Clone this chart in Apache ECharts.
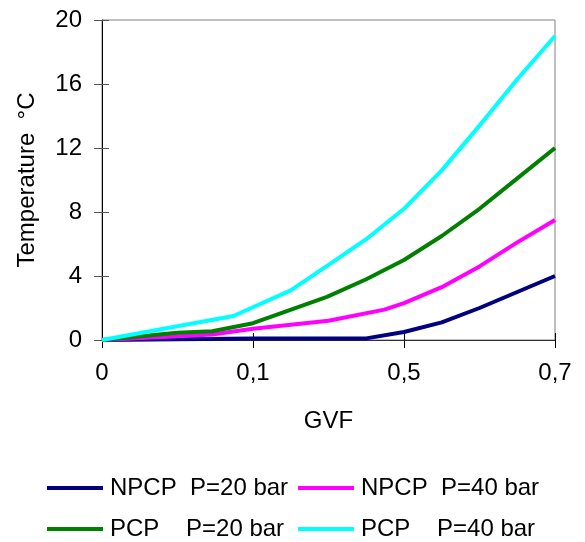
<!DOCTYPE html>
<html>
<head>
<meta charset="utf-8">
<script src="https://cdn.jsdelivr.net/npm/echarts@6/dist/echarts.min.js"></script>
<style>
  html, body { margin: 0; padding: 0; background: #fff; }
  #chart { width: 585px; height: 542px; }
</style>
</head>
<body>
<div id="chart"></div>
<script>
// x positions are in axis slots (0..3); tick labels below map the slots to GVF text
const xTickLabels = ["0", "0,1", "0,5", "0,7"];

const npcp20X = [0, 1.0, 1.49, 1.75, 2.0, 2.25, 2.5, 2.75, 3.0];
const npcp20Y = [0, 0.1, 0.1, 0.1, 0.5, 1.1, 2.0, 3.0, 4.0];

const npcp40X = [0, 0.73, 1.0, 1.5, 1.87, 2.0, 2.25, 2.5, 2.75, 3.0];
const npcp40Y = [0, 0.35, 0.7, 1.2, 1.9, 2.3, 3.3, 4.6, 6.1, 7.5];

const pcp20X = [0, 0.5, 0.73, 1.0, 1.49, 1.75, 2.0, 2.25, 2.5, 2.75, 3.0];
const pcp20Y = [0, 0.45, 0.55, 1.05, 2.7, 3.8, 5.0, 6.5, 8.2, 10.1, 12.0];

const pcp40X = [0, 0.87, 1.25, 1.5, 1.75, 2.0, 2.25, 2.5, 2.75, 3.0];
const pcp40Y = [0, 1.5, 3.1, 4.7, 6.3, 8.2, 10.6, 13.4, 16.3, 19.0];

const FONT = "Liberation Sans, Arial, sans-serif";

const pairs = (xs, ys) => xs.map((x, i) => [x, ys[i]]);

const seriesDefs = [
  { name: "NPCP  P=20 bar", color: "#000080", data: pairs(npcp20X, npcp20Y) },
  { name: "NPCP  P=40 bar", color: "#FF00FF", data: pairs(npcp40X, npcp40Y) },
  { name: "PCP    P=20 bar", color: "#008000", data: pairs(pcp20X, pcp20Y) },
  { name: "PCP    P=40 bar", color: "#00FFFF", data: pairs(pcp40X, pcp40Y) },
];

const chart = echarts.init(document.getElementById("chart"));

// one legend per item so each sits where the original put it
const legendPos = [
  { left: 47, top: 476 },
  { left: 298, top: 476 },
  { left: 47, top: 517 },
  { left: 298, top: 517 },
];

const option = {
  animation: false,
  grid: {
    left: 102,
    right: 30,
    top: 20,
    bottom: 202,
    outerBoundsMode: "none",
    show: true,
    borderColor: "#808080",
    borderWidth: 1,
  },
  legend: seriesDefs.map((s, i) => ({
    data: [s.name],
    left: legendPos[i].left,
    top: legendPos[i].top,
    icon: "rect",
    itemWidth: 56,
    itemHeight: 4,
    itemGap: 0,
    padding: 0,
    textStyle: { fontFamily: FONT, fontSize: 24, color: "#000", padding: [0, 0, 0, 2] },
    selectedMode: false,
  })),
  xAxis: [
    {
      type: "value",
      min: 0,
      max: 3,
      interval: 1,
      position: "bottom",
      name: "GVF",
      nameLocation: "middle",
      nameGap: 69,
      nameTextStyle: { fontFamily: FONT, fontSize: 24, color: "#000" },
      axisLine: { show: true, onZero: false, lineStyle: { color: "#333", width: 1 } },
      axisTick: { show: true, length: 8, lineStyle: { color: "#000" } },
      axisLabel: {
        fontFamily: FONT,
        fontSize: 24,
        color: "#000",
        margin: 21,
        formatter: (v) => xTickLabels[Math.round(v)],
      },
      splitLine: { show: false },
    },
    {
      type: "value",
      min: 0,
      max: 3,
      interval: 1,
      position: "bottom",
      axisLine: { show: false },
      axisTick: { show: true, inside: true, length: 7, lineStyle: { color: "#000" } },
      axisLabel: { show: false },
      splitLine: { show: false },
    },
  ],
  yAxis: [
    {
      type: "value",
      min: 0,
      max: 20,
      interval: 4,
      name: "Temperature  °C",
      nameLocation: "middle",
      nameGap: 63,
      nameRotate: 90,
      nameTextStyle: { fontFamily: FONT, fontSize: 24, color: "#000" },
      axisLine: { show: true, onZero: false, lineStyle: { color: "#000", width: 1 } },
      axisTick: { show: true, length: 8, lineStyle: { color: "#555" } },
      axisLabel: { fontFamily: FONT, fontSize: 24, color: "#000", margin: 20 },
      splitLine: { show: false },
    },
    {
      type: "value",
      min: 0,
      max: 20,
      interval: 4,
      position: "left",
      axisLine: { show: false },
      axisTick: { show: true, inside: true, length: 7, lineStyle: { color: "#555" } },
      axisLabel: { show: false },
      splitLine: { show: false },
    },
  ],
  series: seriesDefs.map((s) => ({
    name: s.name,
    type: "line",
    xAxisIndex: 0,
    yAxisIndex: 0,
    data: s.data,
    symbol: "none",
    smooth: false,
    lineStyle: { color: s.color, width: 4 },
    itemStyle: { color: s.color },
  })),
};

chart.setOption(option);
</script>
</body>
</html>
